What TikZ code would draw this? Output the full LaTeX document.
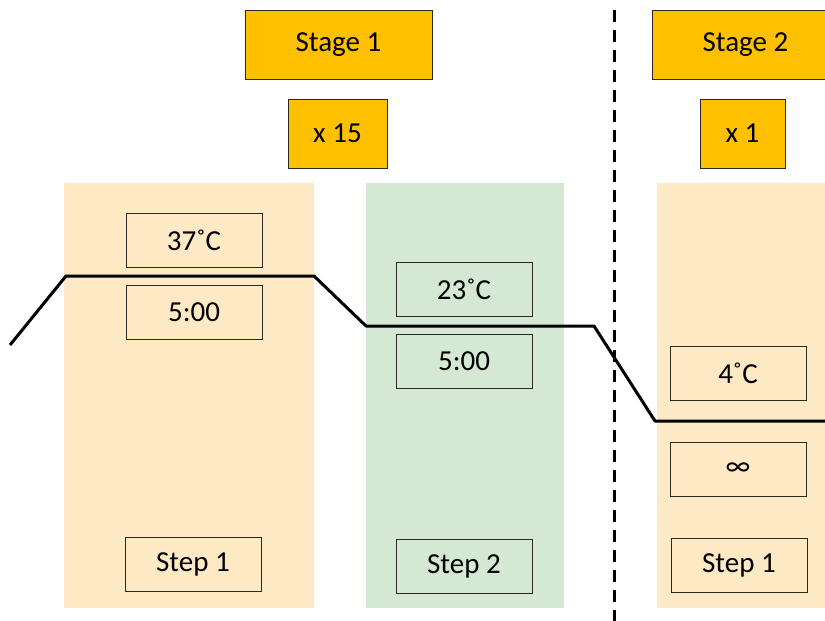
\documentclass[tikz,border=0pt]{standalone}
\usepackage{fontspec}
\setmainfont{Carlito}
\usetikzlibrary{positioning}
\definecolor{stagegold}{RGB}{255,192,0}
\definecolor{steptan}{RGB}{253,233,196}
\definecolor{stepgreen}{RGB}{213,232,212}
\definecolor{edgegray}{RGB}{45,40,35}

\begin{document}
\begin{tikzpicture}[x=1pt, y=-1pt,
    stagebox/.style={draw=edgegray, line width=1pt, fill=stagegold, minimum width=187pt, minimum height=69pt, inner sep=0pt, font=\fontsize{29}{34}\selectfont},
    repbox/.style={stagebox, minimum height=69pt},
    panel/.style={draw=none, minimum height=425pt, inner sep=0pt},
    valbox/.style={draw=edgegray, line width=1pt, minimum width=136pt, minimum height=54pt, inner sep=0pt, font=\fontsize{29}{34}\selectfont}]
        \useasboundingbox (0,0) rectangle (825,621);
        \clip (0,0) rectangle (825,621);

        % Panels
        \node[panel, fill=steptan, minimum width=250pt] (phaseA) at (189,395.5) {};
        \node[panel, fill=stepgreen, minimum width=198pt] (phaseB) at (465,395.5) {};
        \node[panel, fill=steptan, minimum width=250pt] (phaseC) at (782,395.5) {};

        % Stage 1
        \node[stagebox] (stageA) at (338.5,44.5) {Stage 1};
        \node[repbox, minimum width=99pt] (repA) at (337.5,133.5) {x 15};

        % Stage 2
        \node[stagebox] (stageB) at (745.5,44.5) {Stage 2};
        \node[repbox, minimum width=85pt] (repB) at (742.5,133.5) {x 1};

        % Stage 1, step 1
        \node[valbox] (tempA) at (194,240) {37˚C};
        \node[valbox] (timeA) at (194,312) {5:00};
        \node[valbox] (stepA) at (193,564.5) {Step 1};

        % Stage 1, step 2
        \node[valbox] (tempB) at (464,289.5) {23˚C};
        \node[valbox] (timeB) at (464,361) {5:00};
        \node[valbox] (stepB) at (464,566.5) {Step 2};

        % Stage 2, step 1
        \node[valbox] (tempC) at (738,373) {4˚C};
        \node[valbox] (timeC) at (738,469.5) {∞};
        \node[valbox] (stepC) at (739,565.5) {Step 1};

        % Temperature profile
        \draw[line width=3pt, line join=round] (10,345) -- (66,276) -- (314,276) -- (366,326)
            -- (594,326) -- (655,421) -- (830,421);

        % Stage divider
        \draw[line width=3pt, dash pattern=on 12pt off 8pt] (614,10) -- (614,621);
    \end{tikzpicture}
\end{document}
